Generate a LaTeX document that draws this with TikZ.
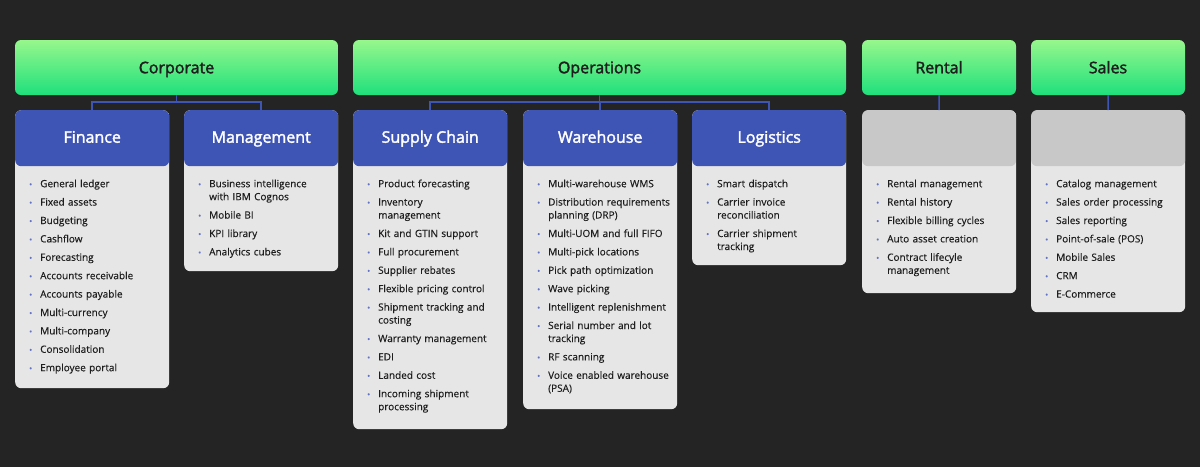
\documentclass[tikz,border=0pt]{standalone}
\usepackage{fontspec}
\setmainfont[FakeBold=0.35]{Open Sans}
\newfontfamily\headfont[FakeBold=2]{Open Sans}
\usetikzlibrary{positioning}

\definecolor{bgdark}{HTML}{242424}
\definecolor{hdrblue}{HTML}{3F55B5}
\definecolor{hdrgray}{HTML}{C8C8C8}
\definecolor{cardgray}{HTML}{E6E6E6}
\definecolor{greentop}{HTML}{96F78C}
\definecolor{greenbot}{HTML}{1EE07C}
\definecolor{dotblue}{HTML}{6272C8}
\definecolor{inktext}{HTML}{1E1E1E}

% bullet list used inside the cards
\newenvironment{featlist}{%
  \begin{list}{\textcolor{dotblue}{\fontsize{8}{8}\selectfont\textbullet}}{%
    \leftmargin=15pt \labelsep=8pt \labelwidth=6pt
    \itemsep=5.4pt \parsep=0pt \topsep=0pt \partopsep=0pt}}%
  {\end{list}}

\begin{document}
\begin{tikzpicture}[
  x=1pt, y=-1pt,
  topbox/.style = {
    rectangle, rounded corners=6pt,
    top color=greentop, bottom color=greenbot,
    minimum height=55pt, text=inktext,
    text height=11.5pt, text depth=0pt,
    font=\headfont\fontsize{16}{19}\selectfont
  },
  card/.style   = {
    rectangle, rounded corners=6pt, fill=cardgray,
    anchor=north west, minimum width=154pt, inner sep=0pt,
    path picture={\fill[#1] (path picture bounding box.north west)
      rectangle ([yshift=-56pt]path picture bounding box.north east);}
  },
  title/.style  = {
    text=white, text height=11.5pt, text depth=0pt,
    font=\headfont\fontsize{16}{19}\selectfont
  },
  items/.style  = {
    anchor=north west, inner sep=0pt, text width=140pt, align=left,
    text=inktext, font=\fontsize{10}{13}\selectfont
  },
  link/.style   = {draw=hdrblue, line width=1.5pt}
]

% ---- constants ----
\def\colA{15}   \def\colB{184}  \def\colC{353}  \def\colD{523}
\def\colE{692}  \def\colF{862}  \def\colG{1031}
\def\cardtop{110}

% ---- background ----
\fill[bgdark] (0,0) rectangle (1200,467);

% ---- top level ----
\node[topbox, minimum width=323pt] (corp)  at (176.5,67.5) {Corporate};
\node[topbox, minimum width=493pt] (ops)   at (599.5,67.5) {Operations};
\node[topbox, minimum width=154pt] (rent)  at (939,67.5)   {Rental};
\node[topbox, minimum width=154pt] (sales) at (1108,67.5)  {Sales};

% ---- cards ----
\node[card=hdrblue, minimum height=278pt] (fin)   at (\colA,\cardtop) {};
\node[card=hdrblue, minimum height=161pt] (mgmt)  at (\colB,\cardtop) {};
\node[card=hdrblue, minimum height=319pt] (sup)   at (\colC,\cardtop) {};
\node[card=hdrblue, minimum height=299pt] (ware)  at (\colD,\cardtop) {};
\node[card=hdrblue, minimum height=155pt] (logi)  at (\colE,\cardtop) {};
\node[card=hdrgray, minimum height=183pt] (rentC) at (\colF,\cardtop) {};
\node[card=hdrgray, minimum height=202pt] (salC)  at (\colG,\cardtop) {};

\node[title] (finT)  at ([yshift=-27pt]fin.north)  {Finance};
\node[title] (mgmtT) at ([yshift=-27pt]mgmt.north) {Management};
\node[title] (supT)  at ([yshift=-27pt]sup.north)  {Supply Chain};
\node[title] (wareT) at ([yshift=-27pt]ware.north) {Warehouse};
\node[title] (logiT) at ([yshift=-27pt]logi.north) {Logistics};

% ---- feature lists ----
\node[items] (finL) at ([xshift=10pt,yshift=-64pt]fin.north west) {%
  \begin{featlist}
    \item General ledger
    \item Fixed assets
    \item Budgeting
    \item Cashflow
    \item Forecasting
    \item Accounts receivable
    \item Accounts payable
    \item Multi-currency
    \item Multi-company
    \item Consolidation
    \item Employee portal
  \end{featlist}};

\node[items] (mgmtL) at ([xshift=10pt,yshift=-64pt]mgmt.north west) {%
  \begin{featlist}
    \item Business intelligence\newline with IBM Cognos
    \item Mobile BI
    \item KPI library
    \item Analytics cubes
  \end{featlist}};

\node[items] (supL) at ([xshift=10pt,yshift=-64pt]sup.north west) {%
  \begin{featlist}
    \item Product forecasting
    \item Inventory\newline management
    \item Kit and GTIN support
    \item Full procurement
    \item Supplier rebates
    \item Flexible pricing control
    \item Shipment tracking and\newline costing
    \item Warranty management
    \item EDI
    \item Landed cost
    \item Incoming shipment\newline processing
  \end{featlist}};

\node[items] (wareL) at ([xshift=10pt,yshift=-64pt]ware.north west) {%
  \begin{featlist}
    \item Multi-warehouse WMS
    \item Distribution requirements\newline planning (DRP)
    \item Multi-UOM and full FIFO
    \item Multi-pick locations
    \item Pick path optimization
    \item Wave picking
    \item Intelligent replenishment
    \item Serial number and lot\newline tracking
    \item RF scanning
    \item Voice enabled warehouse\newline (PSA)
  \end{featlist}};

\node[items] (logiL) at ([xshift=10pt,yshift=-64pt]logi.north west) {%
  \begin{featlist}
    \item Smart dispatch
    \item Carrier invoice\newline reconciliation
    \item Carrier shipment\newline tracking
  \end{featlist}};

\node[items] (rentL) at ([xshift=10pt,yshift=-64pt]rentC.north west) {%
  \begin{featlist}
    \item Rental management
    \item Rental history
    \item Flexible billing cycles
    \item Auto asset creation
    \item Contract lifecyle\newline management
  \end{featlist}};

\node[items] (salL) at ([xshift=10pt,yshift=-64pt]salC.north west) {%
  \begin{featlist}
    \item Catalog management
    \item Sales order processing
    \item Sales reporting
    \item Point-of-sale (POS)
    \item Mobile Sales
    \item CRM
    \item E-Commerce
  \end{featlist}};

% ---- connectors ----
\draw[link] (corp.south) -- ++(0,7) -| (fin.north);
\draw[link] (corp.south) -- ++(0,7) -| (mgmt.north);
\draw[link] (ops.south)  -- ++(0,7) -| (sup.north);
\draw[link] (ops.south)  -- ++(0,7) -| (ware.north);
\draw[link] (ops.south)  -- ++(0,7) -| (logi.north);
\draw[link] (rent.south)  -- (rentC.north);
\draw[link] (sales.south) -- (salC.north);

\end{tikzpicture}
\end{document}
